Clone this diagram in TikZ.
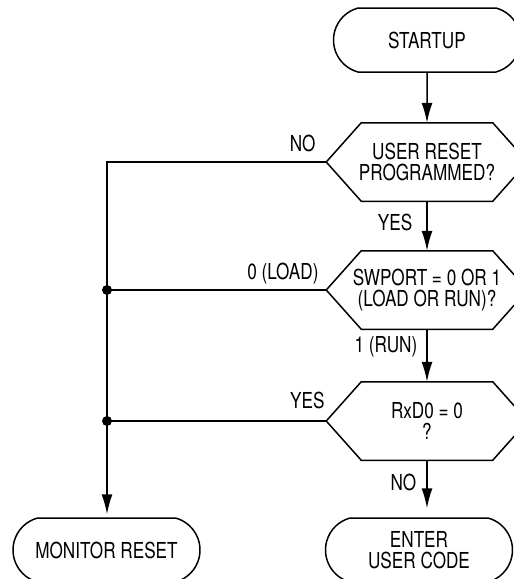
\documentclass[tikz,border=0pt]{standalone}
\usepackage{fontspec}
\setmainfont{TeX Gyre Heros}[FakeStretch=0.78]
\usepackage{tikz}
\usetikzlibrary{arrows.meta,positioning,shapes.misc}

\tikzset{
  terminal/.style={draw,rounded rectangle,rounded rectangle arc length=150,
    minimum width=93.5pt,minimum height=32pt,inner sep=0pt,align=center},
  decision/.style={minimum width=100pt,minimum height=38.5pt,inner sep=0pt,align=center},
  lbl/.style={inner sep=0pt},
  arr/.style={-{Latex[length=10pt,width=5.5pt]}},
  dot/.style={circle,fill,inner sep=0pt,minimum size=5pt}
}

\begin{document}
\begin{tikzpicture}[x=0.5pt,y=-0.5pt,line width=0.75pt,
    every node/.style={font=\fontsize{11}{10.3}\selectfont}]
            \useasboundingbox (0,0) rectangle (514,579);
            \node[terminal] (start) at (427,40) {STARTUP};
            \node[decision] (reset) at (427,162) {USER RESET\\PROGRAMMED?};
            \node[decision] (swport) at (427,290) {SWPORT = 0 OR 1\\(LOAD OR RUN)?};
            \node[decision] (rxd) at (427,421) {RxD0 = 0\\?};
            \node[terminal] (monitor) at (106.5,550) {MONITOR RESET};
            \node[terminal] (enter) at (419,550) {ENTER\\USER CODE};
            \coordinate (bus) at (107,0);
            \foreach \n in {reset,swport,rxd}
              \draw (\n.west) -- ([xshift=17.5pt]\n.north west) -- ([xshift=-17.5pt]\n.north east)
                -- (\n.east) -- ([xshift=-17.5pt]\n.south east) -- ([xshift=17.5pt]\n.south west) -- cycle;
            \draw[arr] (start) -- (reset);
            \draw[arr] (reset) -- (swport);
            \draw[arr] (swport) -- (rxd);
            \draw[arr,shorten >=4.5pt] (rxd.south) -- (rxd.south |- enter.north);
            \draw[arr,shorten >=1.5pt] (reset.west) -- (reset.west -| bus) -- (bus |- monitor.north);
            \draw (swport.west) -- (swport.west -| bus) node[dot] {};
            \draw (rxd.west) -- (rxd.west -| bus) node[dot] {};
            \node[lbl,above left=4.5pt and 5pt of reset.west] (no1) {NO};
            \node[lbl,below left=6pt and 7pt of reset.south] (yes1) {YES};
            \node[lbl,above left=2.5pt and 3.5pt of swport.west] (load) {0 (LOAD)};
            \node[lbl,below left=3pt and 4.5pt of swport.south] (run) {1 (RUN)};
            \node[lbl,above left=5.5pt and 0.5pt of rxd.west] (yes2) {YES};
            \node[lbl,below left=6.5pt and 5pt of rxd.south] (no2) {NO};
        \end{tikzpicture}
\end{document}
